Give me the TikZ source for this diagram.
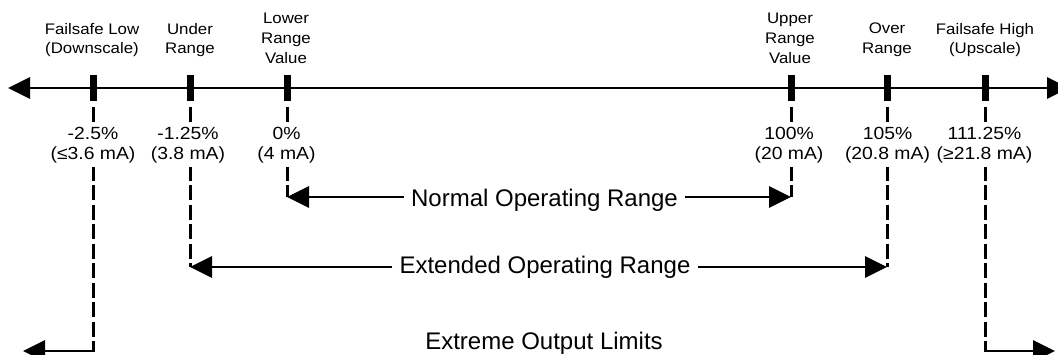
\documentclass[tikz,border=0pt]{standalone}
\usepackage{fontspec}
\setmainfont{Liberation Sans}
\newfontfamily\stretchfont{Liberation Sans}[FakeStretch=1.1]
\usetikzlibrary{arrows.meta}
\begin{document}
\begin{tikzpicture}[x=1pt,y=-1pt,
  tickmark/.style={fill=black, inner sep=0pt, minimum width=7pt, minimum height=26pt},
  guide/.style={line width=3pt, dash pattern=on 15pt off 4.5pt},
  arr/.style={line width=2.8pt, -{Triangle[length=22pt,width=21pt]}},
  biarr/.style={line width=2.8pt, {Triangle[length=22pt,width=21pt]}-{Triangle[length=22pt,width=21pt]}},
  toplabel/.style={align=center, font=\stretchfont\fontsize{15.3}{19.7}\selectfont, inner sep=0pt},
  vallabel/.style={align=center, font=\stretchfont\fontsize{17.6}{20}\selectfont, fill=white, inner xsep=2pt, inner ysep=4pt},
  bigtext/.style={font=\fontsize{24}{28}\selectfont, inner xsep=7pt, inner ysep=0pt, anchor=base}]
\useasboundingbox (0,0) rectangle (1058,355);
\clip (0,0) rectangle (1058,355);

% axis
\coordinate (al) at (8,88);
\coordinate (ar) at (1069,88);
\draw[biarr] (al) -- (ar);

% ticks
\node[tickmark] (t1) at (93,88) {};
\node[tickmark] (t2) at (190,88) {};
\node[tickmark] (t3) at (287,88) {};
\node[tickmark] (t4) at (791,88) {};
\node[tickmark] (t5) at (887,88) {};
\node[tickmark] (t6) at (985,88) {};

% ends of guide lines
\coordinate (c1) at (93,351);
\coordinate (c2) at (190,267);
\coordinate (c3) at (287,197);
\coordinate (c4) at (791,197);
\coordinate (c5) at (887,267);
\coordinate (c6) at (985,351);

\draw[guide] ([yshift=-6pt]t1.south) -- ([yshift=-1.4pt]c1);
\draw[guide] ([yshift=-6pt]t2.south) -- (c2);
\draw[guide] ([yshift=-6pt]t3.south) -- (c3);
\draw[guide] ([yshift=-6pt]t4.south) -- (c4);
\draw[guide] ([yshift=-6pt]t5.south) -- (c5);
\draw[guide] ([yshift=-6pt]t6.south) -- ([yshift=-1.4pt]c6);

% top labels
\node[toplabel] (l1) at (92,40) {Failsafe Low\\(Downscale)};
\node[toplabel] (l2) at (190,40) {Under\\Range};
\node[toplabel] (l3) at (286,38.5) {Lower\\Range\\Value};
\node[toplabel] (l4) at (790,38.5) {Upper\\Range\\Value};
\node[toplabel] (l5) at (887,40) {Over\\Range};
\node[toplabel] (l6) at (985,40) {Failsafe High\\(Upscale)};

% value labels
\node[vallabel] (v1) at (93,145.5) {-2.5\%\\(≤3.6 mA)};
\node[vallabel] (v2) at (188,145.5) {-1.25\%\\(3.8 mA)};
\node[vallabel] (v3) at (286.5,145.5) {0\%\\(4 mA)};
\node[vallabel] (v4) at (789,145.5) {100\%\\(20 mA)};
\node[vallabel] (v5) at (887.5,145.5) {105\%\\(20.8 mA)};
\node[vallabel] (v6) at (984.5,145.5) {111.25\%\\(≥21.8 mA)};

% ranges
\node[bigtext] (nor) at (544.5,206.5) {Normal Operating Range};
\draw[arr] (nor.west |- c3) -- (c3);
\draw[arr] (nor.east |- c4) -- (c4);

\node[bigtext] (ext) at (545,274) {Extended Operating Range};
\draw[arr] (ext.west |- c2) -- (c2);
\draw[arr] (ext.east |- c5) -- (c5);

\node[bigtext] (xtr) at (544,350) {Extreme Output Limits};
\coordinate (e1) at (23,351);
\coordinate (e6) at (1055,351);
\draw[arr] (c1) -- (e1);
\draw[arr] (c6) -- (e6);
\end{tikzpicture}
\end{document}
